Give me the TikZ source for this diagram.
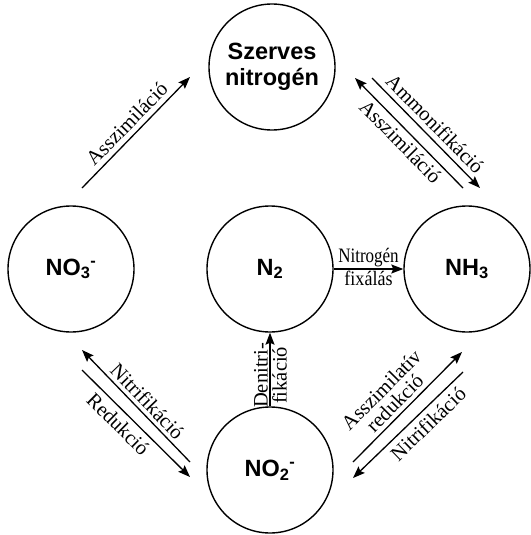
\documentclass[tikz,border=0pt]{standalone}
\usepackage{fontspec}
\setmainfont{Liberation Serif}
\newfontfamily\chemfont{Liberation Sans}
\usetikzlibrary{arrows.meta}
\begin{document}
\begin{tikzpicture}[x=1pt,y=-1pt,
  pool/.style={draw, circle, line width=1.4pt, minimum size=126pt, inner sep=0pt,
    font=\chemfont\bfseries\fontsize{23.5}{26}\selectfont, align=center},
  flow/.style={line width=1.3pt, -{Stealth[length=12pt,width=9pt,inset=2pt]}},
  flowback/.style={line width=1.3pt, {Stealth[length=12pt,width=9pt,inset=2pt]}-},
  lbl/.style={font=\fontsize{20.5}{19}\selectfont, sloped, inner sep=5pt, align=center},
]
\useasboundingbox (0,0) rectangle (530,535);
\fill[white] (0,0) rectangle (530,535);

\node[pool] (org) at (272,67) {Szerves\\nitrogén};
\node[pool] (no3) at (71,269) {NO\textsubscript{3}\textsuperscript{-}};
\node[pool] (n2)  at (270,269) {N\textsubscript{2}};
\node[pool] (nh3) at (467,269) {NH\textsubscript{3}};
\node[pool] (no2) at (270,470) {NO\textsubscript{2}\textsuperscript{-}};

% free ends
\coordinate (a1t) at (82,188);  \coordinate (a1h) at (190,77);
\coordinate (b1h) at (355,78);  \coordinate (b1t) at (463,188);
\coordinate (b2t) at (372,78);  \coordinate (b2h) at (480,188);
\coordinate (c1h) at (82,350);  \coordinate (c1t) at (190,462);
\coordinate (c2t) at (82,370);  \coordinate (c2h) at (190,477);
\coordinate (d1t) at (353,462); \coordinate (d1h) at (462,352);
\coordinate (d2h) at (353,478); \coordinate (d2t) at (463,372);

\draw[flow] (a1t) -- (a1h) node[lbl, above, midway] {Asszimiláció};
\draw[flowback] (b1h) -- (b1t) node[lbl, below, midway, inner sep=4pt] {Asszimiláció};
\draw[flow] (b2t) -- (b2h) node[lbl, above, midway] {Ammonifikáció};
\draw[flow] (n2) -- (nh3)
  node[lbl, above, midway, inner sep=1pt] {\scalebox{0.83}[1]{Nitrogén}}
  node[lbl, below, midway, inner sep=1pt] {\scalebox{0.88}[1]{fixálás}};
\draw[flowback] (c1h) -- (c1t) node[lbl, above, pos=0.53, inner sep=3.5pt] {Nitrifikáció};
\draw[flow] (c2t) -- (c2h) node[lbl, below, pos=0.42] {Redukció};
\draw[flow] (no2) -- (n2)
  node[lbl, above, pos=0.42, inner sep=1.5pt] {Denitri-}
  node[lbl, below, pos=0.42, inner sep=1.5pt] {fikáció};
\draw[flow] (d1t) -- (d1h) node[lbl, above, pos=0.46, inner sep=4pt] {Asszimilatív\\redukció};
\draw[flowback] (d2h) -- (d2t) node[lbl, below, pos=0.6] {Nitrifikáció};
\end{tikzpicture}
\end{document}
